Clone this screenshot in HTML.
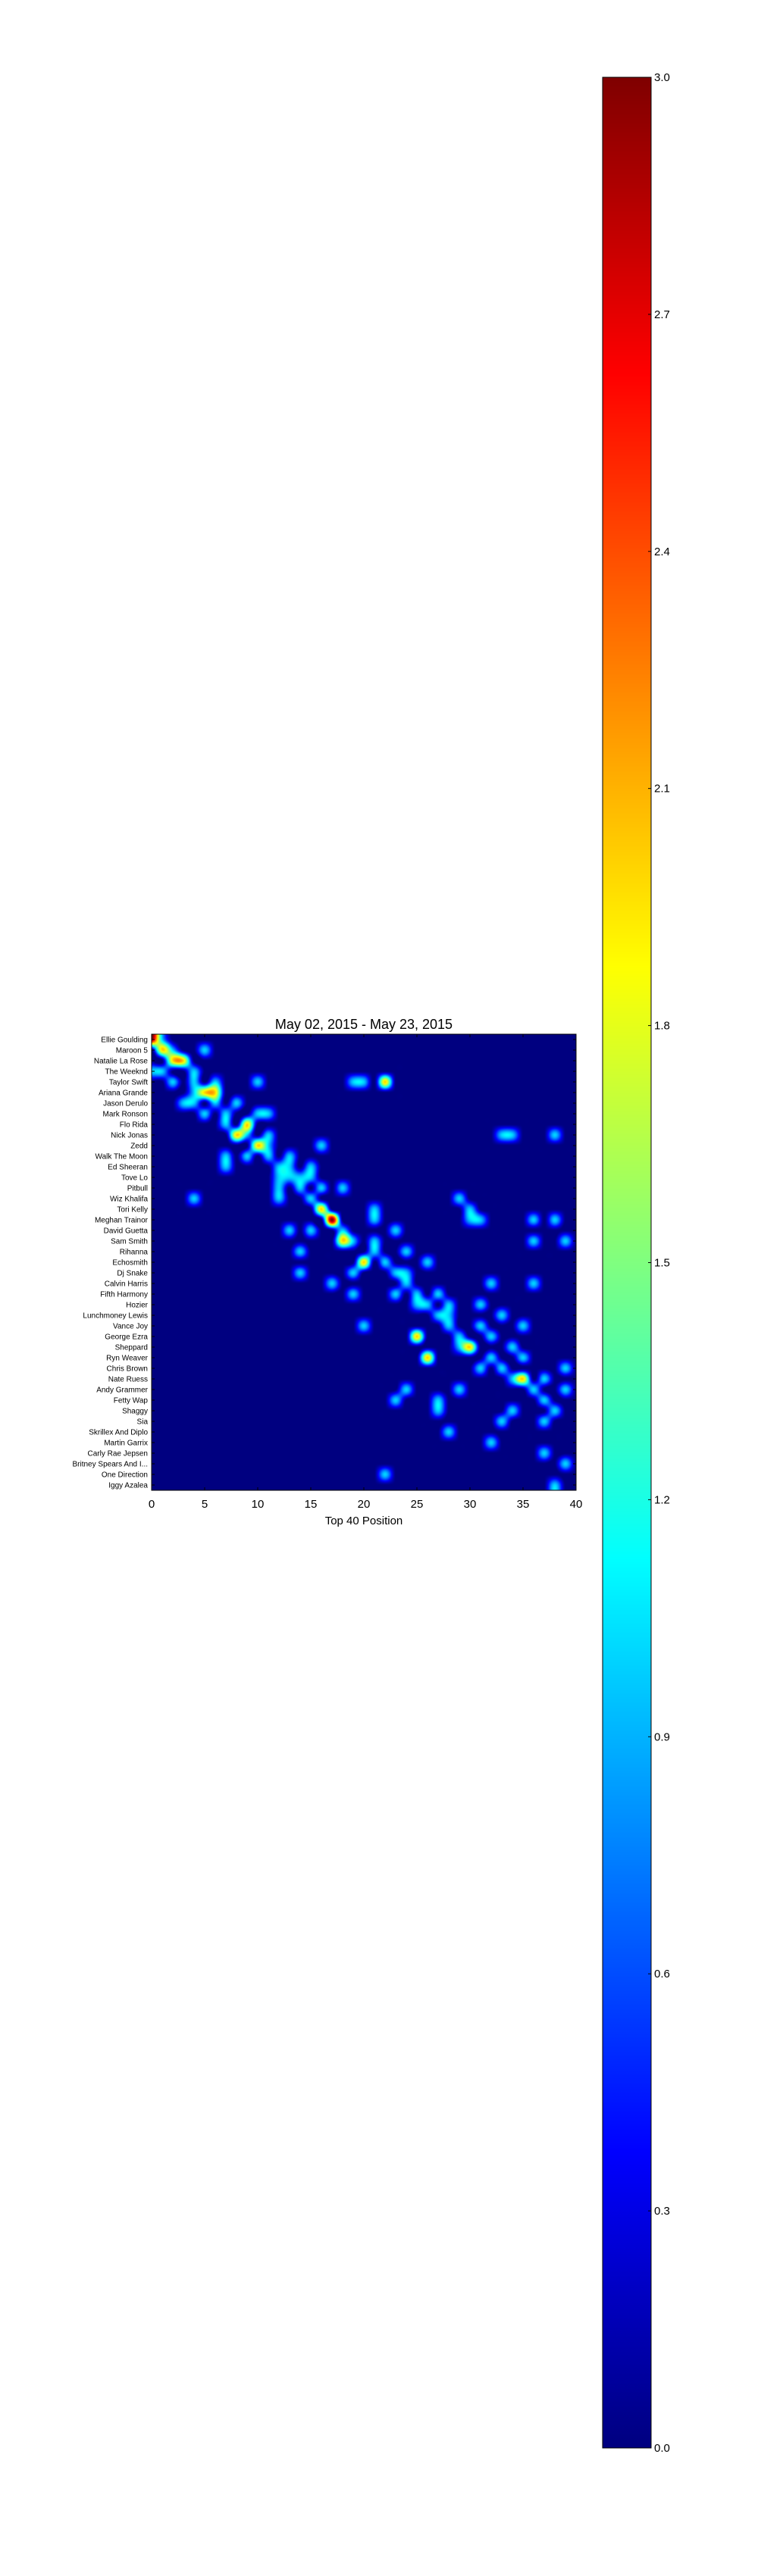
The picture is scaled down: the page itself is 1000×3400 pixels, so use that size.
<!DOCTYPE html>
<html><head><meta charset="utf-8">
<style>
html,body{margin:0;padding:0;background:#fff;}
body{width:1000px;height:3400px;position:relative;overflow:hidden;font-family:"Liberation Sans","DejaVu Sans",sans-serif;}
</style></head>
<body>
<div style="position:absolute;left:0;top:0;width:1000px;height:3400px;">
<canvas id="heat" width="560" height="602" style="position:absolute;left:200px;top:1365px;"></canvas>
<canvas id="cbar" width="64" height="3129" style="position:absolute;left:795px;top:102px;"></canvas>
<svg id="ov" width="1000" height="3400" style="position:absolute;left:0;top:0;" xmlns="http://www.w3.org/2000/svg"></svg>
</div>
<script>
const artists = ["Ellie Goulding","Maroon 5","Natalie La Rose","The Weeknd","Taylor Swift","Ariana Grande","Jason Derulo","Mark Ronson","Flo Rida","Nick Jonas","Zedd","Walk The Moon","Ed Sheeran","Tove Lo","Pitbull","Wiz Khalifa","Tori Kelly","Meghan Trainor","David Guetta","Sam Smith","Rihanna","Echosmith","Dj Snake","Calvin Harris","Fifth Harmony","Hozier","Lunchmoney Lewis","Vance Joy","George Ezra","Sheppard","Ryn Weaver","Chris Brown","Nate Ruess","Andy Grammer","Fetty Wap","Shaggy","Sia","Skrillex And Diplo","Martin Garrix","Carly Rae Jepsen","Britney Spears And I...","One Direction","Iggy Azalea"];
const xTicks = [0,5,10,15,20,25,30,35,40];
const cbarTicks = [0.0,0.3,0.6,0.9,1.2,1.5,1.8,2.1,2.4,2.7,3.0];
const rowIdx = [0,0, 1,1,1, 2,2, 3,3,3, 4,4,4,4,4,4,4, 5,5,5, 6,6,6,6, 7,7,7,7, 8,8, 9,9,9,9,9,9, 10,10,10, 11,11,11,11, 12,12,12,12, 13,13,13,13, 14,14,14,14, 15,15,15,15, 16,16,16, 17,17,17,17,17,17, 18,18,18,18, 19,19,19,19,19, 20,20,20, 21,21,21, 22,22,22,22, 23,23,23,23, 24,24,24,24, 25,25,25,25, 26,26,26, 27,27,27,27, 28,28,28, 29,29,29, 30,30,30, 31,31,31, 32,32,32, 33,33,33,33, 34,34,34, 35,35,35, 36,36, 37, 38, 39, 40, 41, 42];
const posIdx = [0,1, 1,2,5, 2,3, 0,1,4, 2,4,6,10,19,20,22, 5,6,4, 3,4,6,8, 5,7,10,11, 7,9, 8,9,11,33,34,38, 10,11,16, 7,9,11,13, 7,12,13,15, 12,13,14,15, 12,14,16,18, 4,12,15,29, 16,21,30, 17,21,30,31,36,38, 13,15,18,23, 18,19,21,36,39, 14,21,24, 20,22,26, 14,19,23,24, 17,24,32,36, 19,23,25,27, 25,26,28,31, 27,28,33, 20,28,31,35, 25,29,32, 30,29,34, 26,32,35, 31,33,39, 34,35,37, 24,29,36,39, 23,27,37, 27,34,38, 33,37, 28, 32, 37, 39, 22, 38];
const counts = [3,1, 2,1,1, 2,2, 1,1,1, 1,1,1,1,1,1,2, 2,2,1, 1,1,1,1, 1,1,1,1, 1,2, 2,1,1,1,1,1, 2,1,1, 1,1,1,1, 1,1,1,1, 1,1,1,1, 1,1,1,1, 1,1,1,1, 2,1,1, 3,1,1,1,1,1, 1,1,1,1, 2,1,1,1,1, 1,1,1, 2,1,1, 1,1,1,1, 1,1,1,1, 1,1,1,1, 1,1,1,1, 1,1,1, 1,1,1,1, 2,1,1, 2,1,1, 2,1,1, 1,1,1, 1,2,1, 1,1,1,1, 1,1,1, 1,1,1, 1,1, 1, 1, 1, 1, 1, 1];

const PX0=200, PY0=1365, CELL=14, NCOL=41, NROW=artists.length, VMAX=3;
const CB_TOP=102, CB_H=3129;
function xScale(v){return PX0+v*CELL;}
function yScale(r){return PY0+(r+0.5)*CELL;}
function jet(t){t=Math.max(0,Math.min(1,t));
  const c=v=>Math.max(0,Math.min(1,v));
  return [c(1.5-Math.abs(4*t-3))*255,c(1.5-Math.abs(4*t-2))*255,c(1.5-Math.abs(4*t-1))*255];}
const grid=[];for(let r=0;r<NROW;r++){grid.push(new Array(NCOL).fill(0));}
for(let i=0;i<rowIdx.length;i++){grid[rowIdx[i]][posIdx[i]]=counts[i];}
function G(r,c){r=Math.max(0,Math.min(NROW-1,r));c=Math.max(0,Math.min(NCOL-1,c));return grid[r][c];}
function k(x){x=Math.abs(x);const a=-0.5;if(x<1)return (a+2)*x*x*x-(a+3)*x*x+1;if(x<2)return a*x*x*x-5*a*x*x+8*a*x-4*a;return 0;}
(function(){
  const cv=document.getElementById('heat'),ctx=cv.getContext('2d');
  const W=cv.width,H=cv.height,img=ctx.createImageData(W,H);
  for(let py=0;py<H;py++){
    const v=(py+0.5)/CELL-0.5, r0=Math.floor(v), fy=v-r0;
    const wy=[k(fy+1),k(fy),k(1-fy),k(2-fy)];
    for(let px=0;px<W;px++){
      const u=(px+0.5)/CELL, c0=Math.floor(u), fx=u-c0;
      const wx=[k(fx+1),k(fx),k(1-fx),k(2-fx)];
      let s=0;
      for(let j=0;j<4;j++){let row=0;for(let i=0;i<4;i++){row+=wx[i]*G(r0-1+j,c0-1+i);}s+=wy[j]*row;}
      const col=jet(s/VMAX),o=(py*W+px)*4;
      img.data[o]=col[0];img.data[o+1]=col[1];img.data[o+2]=col[2];img.data[o+3]=255;
    }
  }
  ctx.putImageData(img,0,0);
  const cb=document.getElementById('cbar'),cx=cb.getContext('2d');
  for(let y=0;y<cb.height;y++){const col=jet(1-y/(cb.height-1));cx.fillStyle='rgb('+col.map(Math.round).join(',')+')';cx.fillRect(0,y,cb.width,1);}
})();
(function(){
  const NS='http://www.w3.org/2000/svg',svg=document.getElementById('ov');
  function mk(tag,attrs,txt){const e=document.createElementNS(NS,tag);for(const a in attrs)e.setAttribute(a,attrs[a]);if(txt!==undefined)e.textContent=txt;svg.appendChild(e);return e;}
  let e;
  e=mk('rect',{x:PX0,y:PY0,width:560,height:602,fill:'none',stroke:'#000','stroke-width':1});
  
  
  e=mk('text',{x:480,y:1358,'text-anchor':'middle','font-size':18,fill:'#000'},'May 02, 2015 - May 23, 2015');
  
  
  artists.forEach((a,r)=>{
    const y=yScale(r);
    const t=mk('text',{x:195,y:y+3.5,'text-anchor':'end','font-size':10,fill:'#000'},a);
    
    
    mk('line',{x1:PX0,x2:PX0+4,y1:y,y2:y,stroke:'#000'});
    mk('line',{x1:760,x2:756,y1:y,y2:y,stroke:'#000'});
  });
  xTicks.forEach(v=>{
    const x=xScale(v);
    const t=mk('text',{x:x,y:1990,'text-anchor':'middle','font-size':15,fill:'#000'},String(v));
    
    
    mk('line',{x1:x,x2:x,y1:1967,y2:1963,stroke:'#000'});
    mk('line',{x1:x,x2:x,y1:PY0,y2:PY0+4,stroke:'#000'});
  });
  e=mk('text',{x:480,y:2012,'text-anchor':'middle','font-size':15,fill:'#000'},'Top 40 Position');
  
  
  e=mk('rect',{x:795,y:CB_TOP,width:64,height:CB_H,fill:'none',stroke:'#000','stroke-width':1});
  
  
  cbarTicks.forEach(v=>{
    const y=CB_TOP+CB_H*(1-v/VMAX);
    const t=mk('text',{x:863,y:y+5,'font-size':15,fill:'#000'},v.toFixed(1));
    
    
    mk('line',{x1:859,x2:855,y1:y,y2:y,stroke:'#000'});
  });
})();
</script>
</body></html>
